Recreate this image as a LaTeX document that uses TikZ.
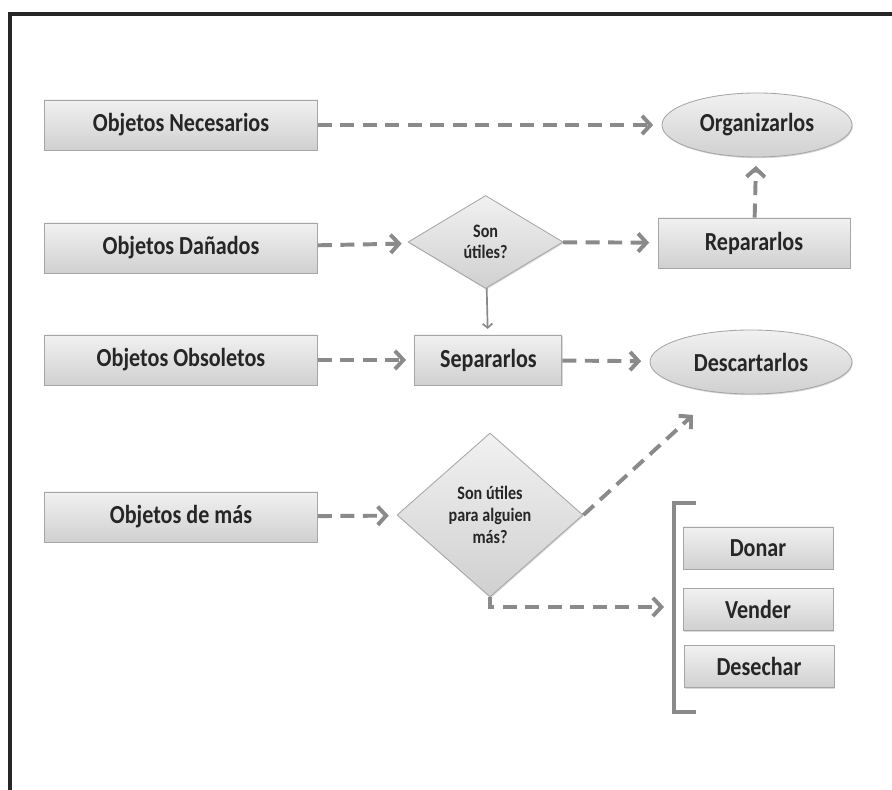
\documentclass[tikz,border=0pt]{standalone}
\usepackage{fontspec}
\setmainfont{Carlito}[FakeStretch=0.85]
\usepackage{xcolor}
\usetikzlibrary{shapes.geometric,arrows.meta,shadows}

\definecolor{linegray}{HTML}{8A8A8A}
\definecolor{edgegray}{HTML}{A6A6A6}
\definecolor{boxtop}{HTML}{F1F1F1}
\definecolor{boxbottom}{HTML}{D0D0D0}

\begin{document}
\begin{tikzpicture}[
    x=1cm,
    y=1cm,
    font=\bfseries\fontsize{18.5}{20}\selectfont,
    text=black!85,
    shaded/.style={
        draw=edgegray,
        line width=0.6pt,
        top color=boxtop,
        bottom color=boxbottom,
        drop shadow={shadow xshift=0.6pt, shadow yshift=-0.9pt, opacity=0.3}
    },
    box/.style={
        shaded,
        rectangle,
        minimum width=6.825cm,
        minimum height=1.25cm
    },
    goal/.style={
        shaded,
        ellipse,
        minimum width=4.75cm,
        minimum height=1.6cm
    },
    choice/.style={
        shaded,
        diamond,
        inner sep=0pt,
        align=center
    },
    flow/.style={
        draw=linegray,
        line width=2.8pt,
        dash pattern=on 10pt off 6pt,
        shorten >=6pt,
        -{Straight Barb[length=6pt,width=13pt]}
    },
    probe/.style={
        draw=linegray,
        line width=1.2pt,
        shorten >=4pt,
        -{Straight Barb[length=3pt,width=7pt]}
    }
]

\useasboundingbox (0,0) rectangle (22.3,19.75);
\draw[line width=3.5pt, black!85] (0.25,0) -- (0.25,19.4) -- (22.3,19.4);


\node[box] (nec) at (4.525,16.625) {Objetos Necesarios};
\node[box] (dan) at (4.525,13.55) {Objetos Dañados};
\node[box] (obs) at (4.525,10.75) {Objetos Obsoletos};
\node[box] (mas) at (4.525,6.825) {Objetos de más};


\node[goal] (org) at (18.925,16.625) {Organizarlos};
\node[goal, minimum width=5.05cm] (desc) at (18.775,10.7) {Descartarlos};


\node[choice, minimum width=3.875cm, minimum height=2.325cm,
      font=\bfseries\fontsize{13.5}{15}\selectfont] (q1) at (12.14,13.7)
    {Son\\útiles?};
\node[choice, minimum width=4.65cm, minimum height=4.1cm,
      font=\bfseries\fontsize{13.5}{15.5}\selectfont] (q2) at (12.25,6.875)
    {Son útiles\\para alguien\\más?};


\node[box, minimum width=4.8cm] (rep) at (18.85,13.675) {Repararlos};
\node[box, minimum width=3.675cm] (sep) at (12.21,10.75) {Separarlos};


\node[box, minimum width=3.75cm, minimum height=1.05cm] (don) at (18.95,6.05) {Donar};
\node[box, minimum width=3.75cm, minimum height=1.05cm] (ven) at (18.95,4.5125) {Vender};
\node[box, minimum width=3.75cm, minimum height=1.05cm] (des) at (18.975,3.0875) {Desechar};


\draw[linegray, line width=3pt, line join=miter]
    (17.4,7.175) -- (16.85,7.175) -- (16.85,1.95) -- (17.4,1.95);


\coordinate (rack) at (16.6,4.575);
\coordinate (bin) at (17.325,9.375);


\draw[flow] (nec) -- (org);
\draw[flow] (dan) -- (q1);
\draw[flow] (q1) -- (rep);
\draw[flow] (rep) -- (org);
\draw[probe] (q1) -- (sep);
\draw[flow] (obs) -- (sep);
\draw[flow] (sep) -- (desc);
\draw[flow] (mas) -- (q2);
\draw[flow, shorten >=0pt] (q2.east) -- (bin);
\draw[flow, shorten >=0pt] (q2.south) |- (rack);

\end{tikzpicture}
\end{document}
